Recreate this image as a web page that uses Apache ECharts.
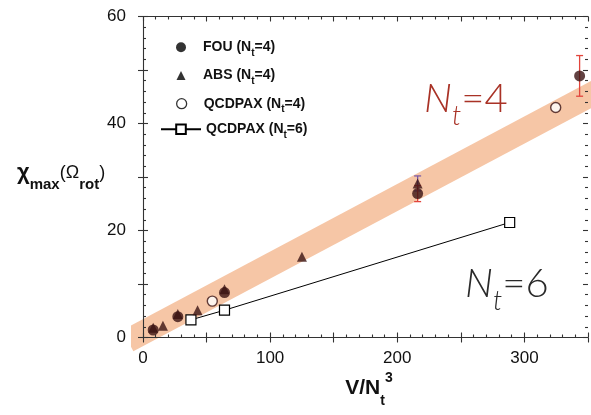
<!DOCTYPE html>
<html><head><meta charset="utf-8">
<script src="https://cdn.jsdelivr.net/npm/echarts@6/dist/echarts.min.js"></script>
<style>html,body{margin:0;padding:0;background:#fff}#c{width:591px;height:415px}</style>
</head><body><div id="c"></div>
<script>
// ---- data ----
const fouX = [8, 27.4, 64.1, 216, 343.4];
const fouY = [1.4, 3.9, 8.4, 26.9, 48.9];
const fouErr = [0, 0, 0, 1.5, 3.8];
const absX = [8, 15.7, 27.4, 42.9, 64.1, 125, 216];
const absY = [1.8, 2.2, 4.4, 5.1, 9.0, 15.1, 28.8];
const absErr = [0, 0, 0, 0, 0, 0, 1.4];
const qcd4X = [54.5, 324.6];
const qcd4Y = [6.8, 43.0];
const qcd6X = [37.7, 64.1, 288.4];
const qcd6Y = [3.3, 5.1, 21.5];
const bandX = [-12, 365];
const bandY = [-0.6, 47.0];
const xTickLabels = [0, 100, 200, 300];
const yTickLabels = [0, 20, 40, 60];
const seriesNames = ['FOU (Nt=4)', 'ABS (Nt=4)', 'QCDPAX (Nt=4)', 'QCDPAX (Nt=6)'];

const zip = (xs, ys) => xs.map((x, i) => [x, ys[i]]);
const errData = (xs, ys, es) => xs.map((x, i) => [x, ys[i] - es[i], ys[i] + es[i]]).filter((d, i) => es[i] > 0);

const FONT = "'Liberation Sans', Arial, sans-serif";
const AX = '#333';
const PT = '#3b1313';

function errSeries(name, data, color) {
  return {
    type: 'custom', name, data, z: 3, silent: true,
    renderItem(params, api) {
      const x = api.value(0);
      const p1 = api.coord([x, api.value(1)]);
      const p2 = api.coord([x, api.value(2)]);
      const w = 3.5;
      const st = { stroke: color, lineWidth: 1.3 };
      return { type: 'group', children: [
        { type: 'line', shape: { x1: p1[0], y1: p1[1], x2: p2[0], y2: p2[1] }, style: st },
        { type: 'line', shape: { x1: p1[0] - w, y1: p1[1], x2: p1[0] + w, y2: p1[1] }, style: st },
        { type: 'line', shape: { x1: p2[0] - w, y1: p2[1], x2: p2[0] + w, y2: p2[1] }, style: st }
      ]};
    }
  };
}

const legendText = {
  fontFamily: FONT, fontSize: 14, fontWeight: 'bold', color: '#111',
  rich: { s: { fontFamily: FONT, fontSize: 10, fontWeight: 'bold', color: '#111', padding: [11, 0, 0, 0] } }
};
const legendFmt = n => n.replace('Nt', 'N{s|t}');
function mkLegend(item, left, top, w, h, gapPad) {
  return {
    data: [item], left, top, itemWidth: w, itemHeight: h, padding: 0,
    selectedMode: false, formatter: legendFmt,
    textStyle: Object.assign({}, legendText, { padding: [0, 0, 0, gapPad] })
  };
}

const xBase = { type: 'value', min: 0, max: 350, interval: 50, splitLine: { show: false }, z: 1 };
const yBase = { type: 'value', min: 0, max: 60, interval: 10, splitLine: { show: false }, z: 1 };
const lineSt = { color: AX, width: 1.1 };

const option = {
  animation: false,
  backgroundColor: '#fff',
  grid: { left: 143, top: 16.5, width: 451.5, height: 321, containLabel: false },
  xAxis: [
    Object.assign({}, xBase, {
      position: 'bottom',
      axisLine: { show: true, onZero: false, lineStyle: lineSt },
      axisTick: { show: true, inside: false, length: 5, lineStyle: lineSt },
      minorTick: { show: false },
      axisLabel: { show: true, margin: 12, fontSize: 17, fontFamily: FONT, color: '#111',
        formatter: v => xTickLabels.includes(v) ? String(v) : '' }
    }),
    Object.assign({}, xBase, {
      position: 'bottom',
      axisLine: { show: false, onZero: false },
      axisTick: { show: true, inside: true, length: 5, lineStyle: lineSt },
      minorTick: { show: true, splitNumber: 5, length: 3, lineStyle: lineSt },
      axisLabel: { show: false }
    }),
    Object.assign({}, xBase, {
      position: 'top',
      axisLine: { show: true, onZero: false, lineStyle: lineSt },
      axisTick: { show: true, inside: true, length: 5, lineStyle: lineSt },
      minorTick: { show: true, splitNumber: 5, length: 3, lineStyle: lineSt },
      axisLabel: { show: false }
    })
  ],
  yAxis: [
    Object.assign({}, yBase, {
      position: 'left',
      axisLine: { show: true, onZero: false, lineStyle: lineSt },
      axisTick: { show: true, inside: false, length: 5, lineStyle: lineSt },
      minorTick: { show: false },
      axisLabel: { show: true, margin: 17, fontSize: 17, fontFamily: FONT, color: '#111',
        formatter: v => yTickLabels.includes(v) ? String(v) : '' }
    }),
    Object.assign({}, yBase, {
      position: 'left',
      axisLine: { show: false, onZero: false },
      axisTick: { show: true, inside: true, length: 5, lineStyle: lineSt },
      minorTick: { show: true, splitNumber: 5, length: 3, lineStyle: lineSt },
      axisLabel: { show: false }
    }),
    Object.assign({}, yBase, {
      position: 'right',
      axisLine: { show: false, onZero: false },
      axisTick: { show: true, inside: true, length: 5, lineStyle: lineSt },
      minorTick: { show: true, splitNumber: 5, length: 3, lineStyle: lineSt },
      axisLabel: { show: false }
    })
  ],
  legend: [
    mkLegend({ name: seriesNames[0], icon: 'circle', itemStyle: { color: '#000' } }, 176, 40.3, 10, 10, 12),
    mkLegend({ name: seriesNames[1], icon: 'triangle', itemStyle: { color: '#000' } }, 176.5, 68.5, 9, 9, 12.5),
    mkLegend({ name: seriesNames[2], icon: 'circle', itemStyle: { color: '#fff', borderColor: '#000', borderWidth: 1.3 } }, 176, 96.7, 10, 10, 12),
    mkLegend({ name: seriesNames[3] }, 160, 122.3, 40, 12, 0)
  ],
  graphic: [
    { type: 'text', x: 17, y: 173, z: 10, style: {
      text: '{c|χ}{s|max}{m|(Ω}{s|rot}{m|)}', align: 'left', verticalAlign: 'middle', fill: '#111',
      rich: {
        c: { fontFamily: FONT, fontSize: 22, fontWeight: 'bold', fill: '#111' },
        s: { fontFamily: FONT, fontSize: 15, fontWeight: 'bold', fill: '#111', padding: [23, 0, 0, 0] },
        m: { fontFamily: FONT, fontSize: 18, fontWeight: 'normal', fill: '#111' }
      } } },
    { type: 'text', x: 369, y: 388, z: 10, style: {
      text: '{m|V/N}{s|t}{p|3}', align: 'center', verticalAlign: 'middle', fill: '#111',
      rich: {
        m: { fontFamily: FONT, fontSize: 21, fontWeight: 'bold', fill: '#111' },
        s: { fontFamily: FONT, fontSize: 14, fontWeight: 'bold', fill: '#111', padding: [26, 0, 0, 0] },
        p: { fontFamily: FONT, fontSize: 14, fontWeight: 'bold', fill: '#111', padding: [0, 0, 20, 0] }
      } } },
    { type: 'text', x: 424, y: 99, z: 10, style: {
      text: '{n|N}{t|t}{e|=4}', align: 'left', verticalAlign: 'middle', fill: '#a93226',
      rich: {
        n: { fontFamily: 'Lato', fontSize: 40, fontStyle: 'italic', fontWeight: 300, fill: '#a93226' },
        t: { fontFamily: 'Lato', fontSize: 27, fontStyle: 'italic', fontWeight: 300, fill: '#a93226', padding: [34, 0, 0, 0] },
        e: { fontFamily: 'Lato', fontSize: 40, fontWeight: 300, fill: '#a93226' }
      } } },
    { type: 'text', x: 465, y: 284, z: 10, style: {
      text: '{n|N}{t|t}{e|=6}', align: 'left', verticalAlign: 'middle', fill: '#2a2a2a',
      rich: {
        n: { fontFamily: 'Lato', fontSize: 40, fontStyle: 'italic', fontWeight: 300, fill: '#2a2a2a' },
        t: { fontFamily: 'Lato', fontSize: 27, fontStyle: 'italic', fontWeight: 300, fill: '#2a2a2a', padding: [34, 0, 0, 0] },
        e: { fontFamily: 'Lato', fontSize: 40, fontWeight: 300, fill: '#2a2a2a' }
      } } }
  ],
  series: [
    { type: 'line', name: 'band', data: zip(bandX, bandY), z: 0, clip: false, silent: true,
      symbol: 'none', lineStyle: { color: '#f6c6a6', width: 24, cap: 'butt' } },
    { type: 'line', name: seriesNames[3], data: zip(qcd6X, qcd6Y), z: 3,
      symbol: 'rect', symbolSize: 10, showSymbol: true,
      lineStyle: { color: '#000', width: 1 },
      itemStyle: { color: '#fff', borderColor: '#000', borderWidth: 1.2 } },
    errSeries('ABS err', errData(absX, absY, absErr), '#7b5aa6'),
    errSeries('FOU err', errData(fouX, fouY, fouErr), '#e2453c'),
    { type: 'scatter', name: seriesNames[1], data: zip(absX, absY), z: 4,
      symbol: 'triangle', symbolSize: 10, itemStyle: { color: PT } },
    { type: 'scatter', name: seriesNames[0], data: zip(fouX, fouY), z: 5,
      symbol: 'circle', symbolSize: 11, itemStyle: { color: PT } },
    { type: 'scatter', name: seriesNames[2], data: zip(qcd4X, qcd4Y), z: 5,
      symbol: 'circle', symbolSize: 10, itemStyle: { color: '#fff', borderColor: PT, borderWidth: 1.4 } }
  ]
};
const chart = echarts.init(document.getElementById('c'), null, { renderer: 'canvas' });
chart.setOption(option);
</script></body></html>
